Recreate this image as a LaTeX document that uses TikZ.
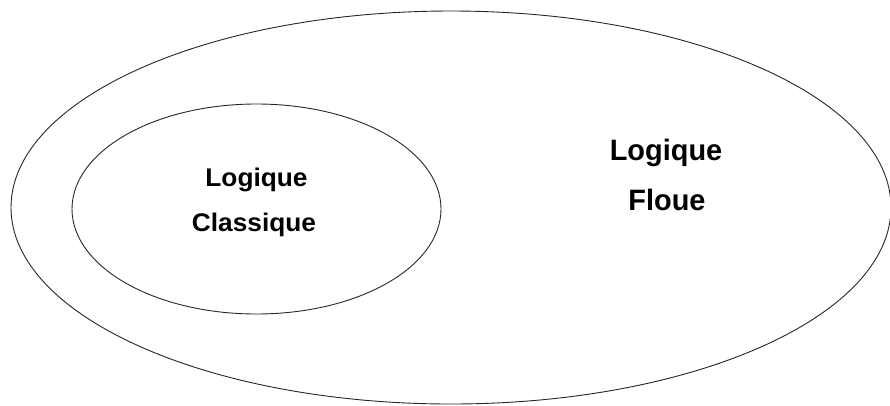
\documentclass[tikz,border=0pt]{standalone}
\usepackage{fontspec}
\setmainfont{Liberation Sans}
\begin{document}
\begin{tikzpicture}[x=1pt,y=-1pt,
  setline/.style={draw=black!85,line width=0.9pt},
  lblsmall/.style={anchor=base,inner sep=0pt,font=\fontsize{25.5}{30}\selectfont\bfseries,xscale=1.03},
  lblbig/.style={anchor=base,inner sep=0pt,font=\fontsize{29.5}{34}\selectfont\bfseries,xscale=0.98}]
\useasboundingbox (0,0) rectangle (890,405);
\draw[setline] (451,207.5) ellipse [x radius=440, y radius=196.5];
\draw[setline] (256.5,209) ellipse [x radius=184.5, y radius=105];
\node[lblsmall] (lc1) at (256.5,186.5) {Logique};
\node[lblsmall] (lc2) at (254,231) {Classique};
\node[lblbig] (lf1) at (666,160) {Logique};
\node[lblbig] (lf2) at (667,210) {Floue};
\end{tikzpicture}
\end{document}
